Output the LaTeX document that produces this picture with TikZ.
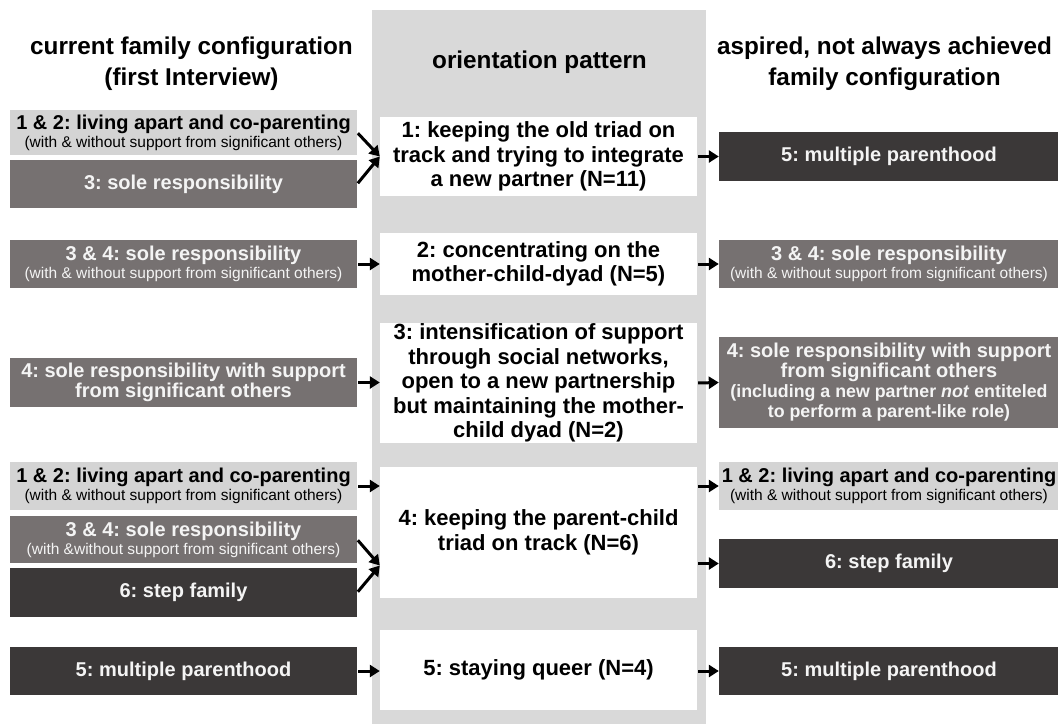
\documentclass[tikz,border=0pt]{standalone}
\usepackage{fontspec}
\setmainfont{Liberation Sans}
\usetikzlibrary{arrows.meta,calc}
\definecolor{colmid}{HTML}{D9D9D9}
\definecolor{lightbox}{HTML}{D4D4D4}
\definecolor{midbox}{HTML}{767171}
\definecolor{darkbox}{HTML}{3B3838}
\definecolor{boxwhite}{HTML}{F4F4F4}
\newcommand{\smallsub}{\mdseries\fontsize{15.5}{17}\selectfont}
\frenchspacing
\begin{document}
\begin{tikzpicture}[x=1pt,y=-1pt,
  anybox/.style={inner sep=0pt, align=center, font=\bfseries\fontsize{20}{20}\selectfont},
  lbox/.style={anybox, minimum width=347pt},
  rbox/.style={anybox, minimum width=340pt},
  mbox/.style={anybox, minimum width=317pt, fill=white, text=black, font=\bfseries\fontsize{22}{24.5}\selectfont},
  lgt/.style={fill=lightbox, text=black},
  mid/.style={fill=midbox, text=boxwhite},
  drk/.style={fill=darkbox, text=boxwhite},
  head/.style={align=center, font=\bfseries\fontsize{24.3}{31}\selectfont},
  arr/.style={line width=3pt, -{Triangle[length=10pt,width=12pt]}, shorten <=1pt}
]
\useasboundingbox (0,0) rectangle (1058,724);
\fill[white] (0,0) rectangle (1058,724);
% middle column
\fill[colmid] (372,10) rectangle (706,724);

% headers
\node[head] (hl) at (191.5,63.5) {current family configuration\\(first Interview)};
\node[head] (hm) at (539.5,62) {orientation pattern};
\node[head] (hr) at (884.5,63.5) {aspired, not always achieved\\family configuration};

% middle boxes
\node[mbox, minimum height=79pt] (M1) at (538.5,156.5) {1: keeping the old triad on\\track and trying to integrate\\a new partner (N=11)};
\node[mbox, minimum height=62pt] (M2) at (538.5,264) {2: concentrating on the\\mother-child-dyad (N=5)};
\node[mbox, minimum height=120pt] (M3) at (538.5,383) {3: intensification of support\\through social networks,\\open to a new partnership\\but maintaining the mother-\\child dyad (N=2)};
\node[mbox, minimum height=131pt] (M4) at (538.5,532.5) {4: keeping the parent-child\\triad on track (N=6)};
\node[mbox, minimum height=80pt] (M5) at (538.5,670) {5: staying queer (N=4)};

% left boxes
\node[lbox, lgt, minimum height=45pt] (L1a) at (183.5,132.5) {1 \& 2: living apart and co-parenting\\[-2pt]{\smallsub (with \& without support from significant others)}};
\node[lbox, mid, minimum height=48pt] (L1b) at (183.5,184) {3: sole responsibility};
\node[lbox, mid, minimum height=48pt] (L2) at (183.5,264) {3 \& 4: sole responsibility\\[-2pt]{\smallsub (with \& without support from significant others)}};
\node[lbox, mid, minimum height=49pt] (L3) at (183.5,382.5) {4: sole responsibility with support\\from significant others};
\node[lbox, lgt, minimum height=48pt] (L4a) at (183.5,486) {1 \& 2: living apart and co-parenting\\[-2pt]{\smallsub (with \& without support from significant others)}};
\node[lbox, mid, minimum height=47pt] (L4b) at (183.5,539.5) {3 \& 4: sole responsibility\\[-2pt]{\smallsub (with \&without support from significant others)}};
\node[lbox, drk, minimum height=49pt] (L4c) at (183.5,592.5) {6: step family};
\node[lbox, drk, minimum height=48pt] (L5) at (183.5,671) {5: multiple parenthood};

% right boxes
\node[rbox, drk, minimum height=49pt] (R1) at (889,156.5) {5: multiple parenthood};
\node[rbox, mid, minimum height=48pt] (R2) at (889,264) {3 \& 4: sole responsibility\\[-2pt]{\smallsub (with \& without support from significant others)}};
\node[rbox, mid, minimum height=91pt] (R3) at (889,382.5) {4: sole responsibility with support\\from significant others\\{\fontsize{17.8}{20}\selectfont (including a new partner \textit{not} entiteled}\\{\fontsize{17.8}{20}\selectfont to perform a parent-like role)}};
\node[rbox, lgt, minimum height=48pt] (R4a) at (889,486) {1 \& 2: living apart and co-parenting\\[-2pt]{\smallsub (with \& without support from significant others)}};
\node[rbox, drk, minimum height=49pt] (R4b) at (889,563.5) {6: step family};
\node[rbox, drk, minimum height=48pt] (R5) at (889,671) {5: multiple parenthood};

% arrow targets
\coordinate (M4in) at ($(M4.west)+(0,33)$);

% arrows left -> middle
\draw[arr] (L1a.east) -- (M1.west);
\draw[arr] (L1b.east) -- (M1.west);
\draw[arr] (L2.east) -- (L2.east -| M2.west);
\draw[arr] (L3.east) -- (L3.east -| M3.west);
\draw[arr] (L4a.east) -- (L4a.east -| M4.west);
\draw[arr] (L4b.east) -- (M4in);
\draw[arr] (L4c.east) -- (M4in);
\draw[arr] (L5.east) -- (L5.east -| M5.west);

% arrows middle -> right
\draw[arr] (M1.east) -- (R1.west);
\draw[arr] (M2.east |- R2.west) -- (R2.west);
\draw[arr] (M3.east) -- (R3.west);
\draw[arr] (M4.east |- R4a.west) -- (R4a.west);
\draw[arr] (M4.east |- R4b.west) -- (R4b.west);
\draw[arr] (M5.east |- R5.west) -- (R5.west);
\end{tikzpicture}
\end{document}
